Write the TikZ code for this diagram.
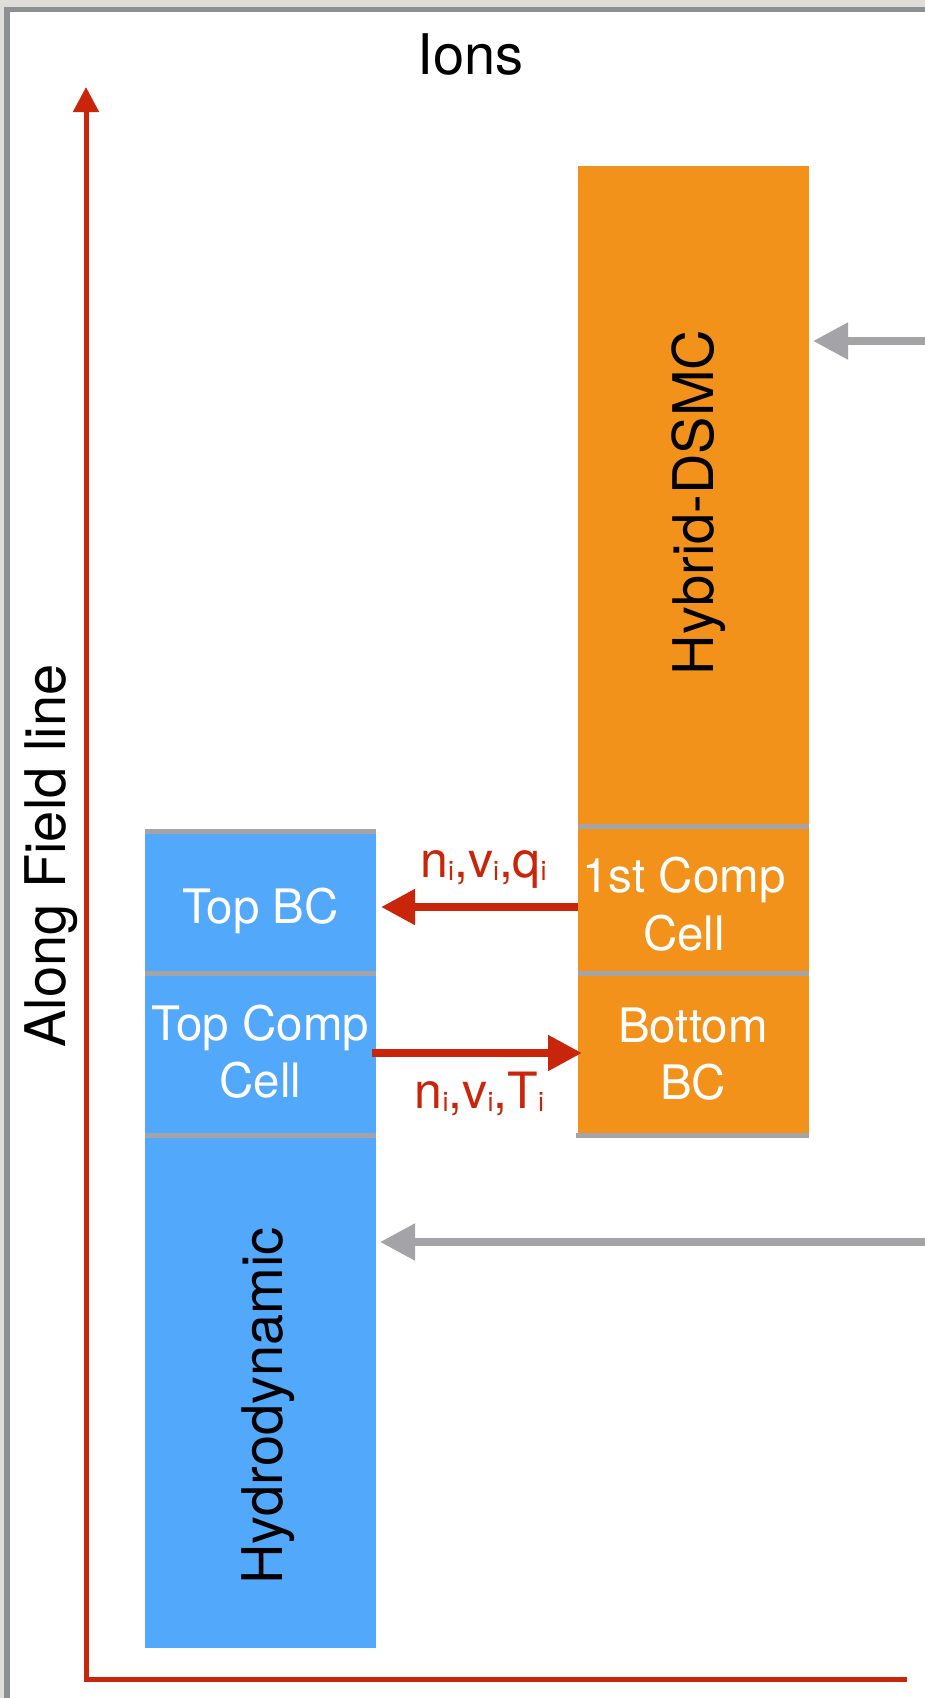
\documentclass[tikz,border=0pt]{standalone}
\usepackage{fontspec}
\setmainfont{TeX Gyre Heros}
\usetikzlibrary{arrows.meta}
\definecolor{dorange}{HTML}{F3921B}
\definecolor{dblue}{HTML}{52A8FA}
\definecolor{dred}{HTML}{C8250A}
\definecolor{dgray}{HTML}{A3A3A8}
\definecolor{dframe}{HTML}{8D9093}
\definecolor{dbg}{HTML}{DEDDD7}
\newcommand\subi{\raisebox{-3pt}{\fontsize{27}{27}\selectfont i}}
\begin{document}
\begin{tikzpicture}[x=1pt,y=-1pt,
 sect/.style={rectangle, inner sep=0pt, outer sep=0pt, minimum width=231pt},
 bluesect/.style={sect, fill=dblue},
 orangesect/.style={sect, fill=dorange},
 sep/.style={draw=dgray, line width=5pt},
 bigtext/.style={inner sep=0pt, anchor=base, font=\fontsize{56}{67}\selectfont},
 boxtext/.style={inner sep=0pt, anchor=base, text=white, font=\fontsize{47.5}{57}\selectfont},
 redlabel/.style={inner sep=0pt, anchor=base, text=dred, font=\fontsize{50}{60}\selectfont},
 redarr/.style={draw=dred, line width=8pt, -{Triangle[length=34pt,width=34pt]}},
 grayarr/.style={draw=dgray, line width=8pt, -{Triangle[length=35pt,width=35pt]}},
 axis/.style={draw=dred, line width=5pt, -{Triangle[length=25pt,width=25pt]}},
]
\useasboundingbox (0,0) rectangle (925,1698);
% background and frame
\fill[dbg] (0,0) rectangle (925,1698);
\fill[white] (7,9.7) rectangle (925,1698);
\draw[dframe, line width=5.5pt] (7,1705) -- (7,9.7) -- (930,9.7);

% blue column
\node[bluesect, minimum height=144pt] (topbc) at (260.5,901) {};
\node[bluesect, minimum height=162pt] (topcomp) at (260.5,1054) {};
\node[bluesect, minimum height=513pt] (hydro) at (260.5,1391.5) {};
% orange column
\node[orangesect, minimum height=660pt] (dsmc) at (693.5,496) {};
\node[orangesect, minimum height=147pt] (first) at (693.5,899.5) {};
\node[orangesect, minimum height=162pt] (bottombc) at (693.5,1054) {};

% separators
\draw[sep] ([yshift=-2pt]topbc.north west) -- ([yshift=-2pt]topbc.north east);
\draw[sep] (topcomp.north west) -- (topcomp.north east);
\draw[sep] (hydro.north west) -- (hydro.north east);
\draw[sep] (first.north west) -- (first.north east);
\draw[sep] (bottombc.north west) -- (bottombc.north east);
\draw[sep] ([xshift=-2pt]bottombc.south west) -- (bottombc.south east);

% texts
\node[bigtext] (ions) at (470.5,74) {Ions};
\node[bigtext, rotate=90] (afl) at (65,856) {Along Field line};
\node[bigtext, rotate=90] (dsmctxt) at (713,502.5) {Hybrid-DSMC};
\node[bigtext, rotate=90] (hydrotxt) at (282,1406) {Hydrodynamic};

\node[boxtext] (t1) at (260.5,923) {Top BC};
\node[boxtext] (t2) at (260.5,1040) {Top Comp};
\node[boxtext] (t3) at (260.5,1097) {Cell};
\node[boxtext] (t4) at (684,892) {1st Comp};
\node[boxtext] (t5) at (684,950) {Cell};
\node[boxtext] (t6) at (693,1042) {Bottom};
\node[boxtext] (t7) at (693,1099) {BC};

\node[redlabel] (l1) at (483.5,877) {n\subi,v\subi,q\subi};
\node[redlabel] (l2) at (479.5,1108) {n\subi,v\subi,T\subi};

% connectors
\coordinate (ya) at (0,907);
\coordinate (yb) at (0,1053);
\draw[redarr, shorten >=5pt] (first.west |- ya) -- (topbc.east |- ya);
\draw[redarr, shorten <=-4pt, shorten >=-4pt] (topcomp.east |- yb) -- (bottombc.west |- yb);

\coordinate (ga) at (925,341);
\coordinate (gb) at (925,1242);
\draw[grayarr, shorten >=4pt] (ga) -- (dsmc.east |- ga);
\draw[grayarr, shorten >=4pt] (gb) -- (hydro.east |- gb);

% axes
\coordinate (axo) at (86,1679.5);
\coordinate (axx) at (907,1679.5);
\coordinate (axy) at (86,87);
\draw[axis] (axx) -- (axo) -- (axy);
\end{tikzpicture}
\end{document}
